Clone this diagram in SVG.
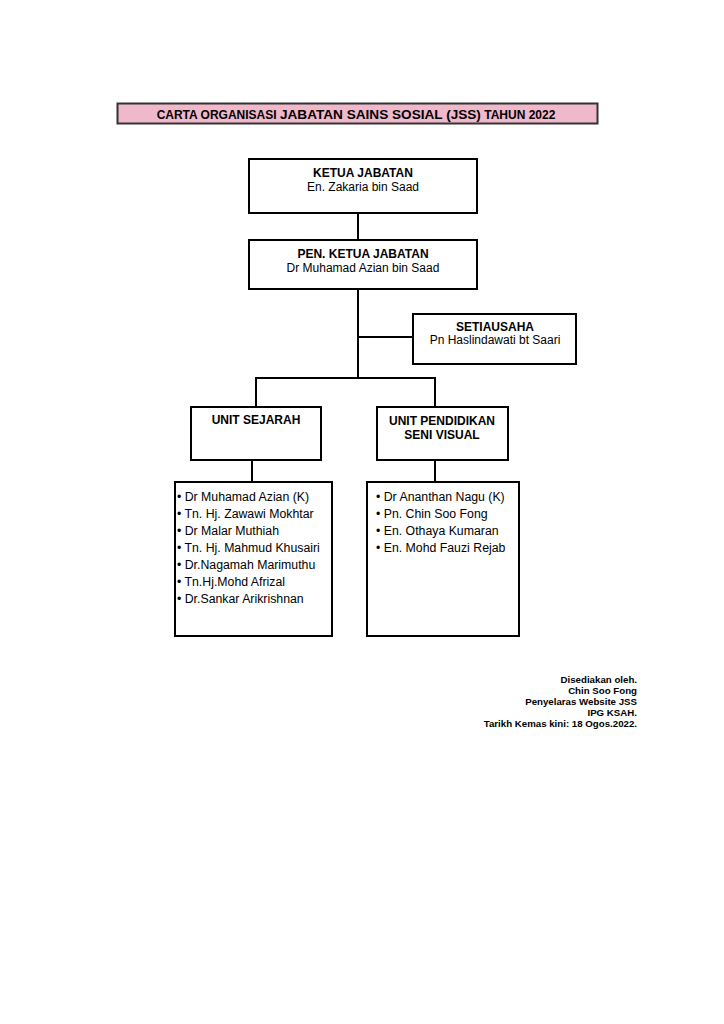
<svg xmlns="http://www.w3.org/2000/svg" width="724" height="1024" viewBox="0 0 724 1024">
<style>
.box{fill:#fff;stroke:#000;stroke-width:2}
.t{font-family:"Liberation Sans",Arial,sans-serif;font-size:12px;fill:#000}
.l{font-size:12.3px}
.b{font-weight:bold}
.c{text-anchor:middle}
.f{font-family:"Liberation Sans",Arial,sans-serif;font-size:9.7px;font-weight:bold;text-anchor:end;fill:#000}
.ln{stroke:#000;stroke-width:2;fill:none}
</style>
<rect width="724" height="1024" fill="#fff"/>
<g id="title">
<rect x="117.5" y="103.5" width="480" height="20" fill="#f0b8cb" stroke="#333" stroke-width="2"/>
<text class="t b c" x="356" y="118.5"><tspan font-size="12">CARTA ORGANISASI </tspan><tspan font-size="13.6">JABATAN SAINS SOSIAL (JSS)</tspan><tspan font-size="12"> TAHUN 2022</tspan></text>
</g>
<g id="connectors">
<line class="ln" x1="358" y1="213" x2="358" y2="240"/>
<line class="ln" x1="358" y1="289" x2="358" y2="379"/>
<line class="ln" x1="358" y1="337" x2="413" y2="337"/>
<line class="ln" x1="255" y1="378" x2="436" y2="378"/>
<line class="ln" x1="256" y1="377" x2="256" y2="407"/>
<line class="ln" x1="435" y1="377" x2="435" y2="407"/>
<line class="ln" x1="252" y1="460" x2="252" y2="482"/>
<line class="ln" x1="435" y1="460" x2="435" y2="482"/>
</g>
<g id="ketua">
<rect class="box" x="249" y="159" width="228" height="54"/>
<text class="t b c" x="363" y="177">KETUA JABATAN</text>
<text class="t c" x="363" y="191">En. Zakaria bin Saad</text>
</g>
<g id="pen-ketua">
<rect class="box" x="249" y="240" width="228" height="49"/>
<text class="t b c" x="363" y="258">PEN. KETUA JABATAN</text>
<text class="t c" x="363" y="272">Dr Muhamad Azian bin Saad</text>
</g>
<g id="setiausaha">
<rect class="box" x="413" y="314" width="163" height="50"/>
<text class="t b c" x="495" y="331">SETIAUSAHA</text>
<text class="t c" x="495" y="344" font-size="11.5">Pn Haslindawati bt Saari</text>
</g>
<g id="unit-sejarah">
<rect class="box" x="191" y="407" width="130" height="53"/>
<text class="t b c" x="256" y="424">UNIT SEJARAH</text>
</g>
<g id="unit-psv">
<rect class="box" x="377" y="407" width="131" height="53"/>
<text class="t b c" x="442" y="425">UNIT PENDIDIKAN</text>
<text class="t b c" x="442" y="439">SENI VISUAL</text>
</g>
<g id="sejarah-list">
<rect class="box" x="175" y="482" width="157" height="154"/>
<text class="t l" x="177" y="500.5">• Dr Muhamad Azian (K)</text>
<text class="t l" x="177" y="517.5">• Tn. Hj. Zawawi Mokhtar</text>
<text class="t l" x="177" y="534.5">• Dr Malar Muthiah</text>
<text class="t l" x="177" y="551.5">• Tn. Hj. Mahmud Khusairi</text>
<text class="t l" x="177" y="568.5">• Dr.Nagamah Marimuthu</text>
<text class="t l" x="177" y="585.5">• Tn.Hj.Mohd Afrizal</text>
<text class="t l" x="177" y="602.5">• Dr.Sankar Arikrishnan</text>
</g>
<g id="psv-list">
<rect class="box" x="367" y="482" width="152" height="154"/>
<text class="t l" x="376" y="500.5">• Dr Ananthan Nagu (K)</text>
<text class="t l" x="376" y="517.5">• Pn. Chin Soo Fong</text>
<text class="t l" x="376" y="534.5">• En. Othaya Kumaran</text>
<text class="t l" x="376" y="551.5">• En. Mohd Fauzi Rejab</text>
</g>
<g id="footer">
<text class="f" x="637" y="683">Disediakan oleh.</text>
<text class="f" x="637" y="694">Chin Soo Fong</text>
<text class="f" x="637" y="705">Penyelaras Website JSS</text>
<text class="f" x="637" y="716">IPG KSAH.</text>
<text class="f" x="637" y="727">Tarikh Kemas kini: 18 Ogos.2022.</text>
</g>
</svg>
